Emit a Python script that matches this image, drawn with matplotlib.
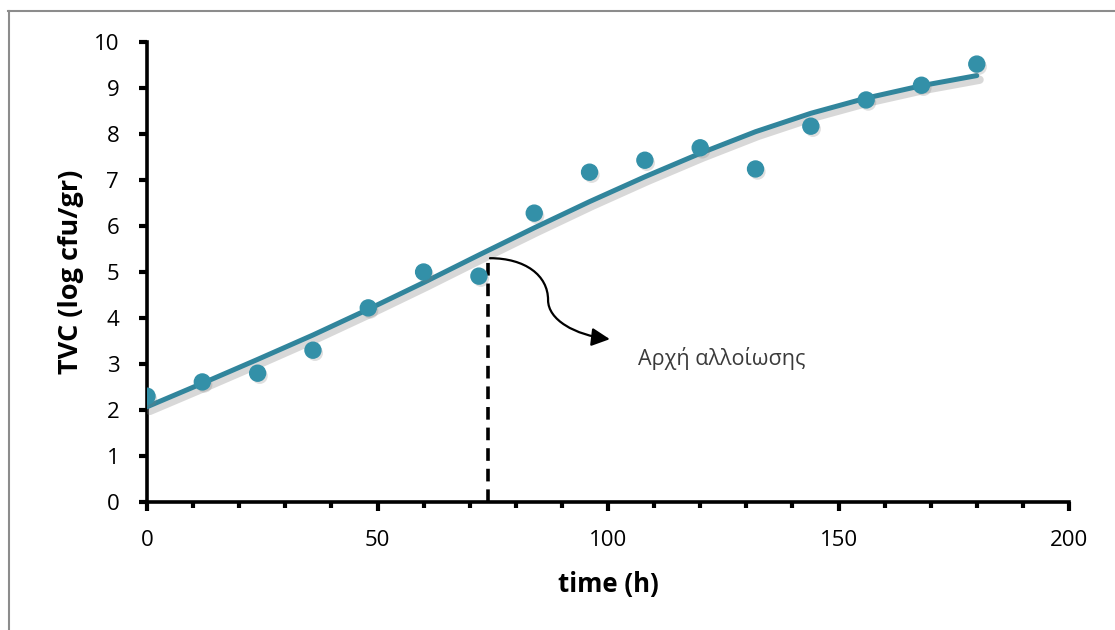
import matplotlib
matplotlib.use("Agg")
import matplotlib.pyplot as plt
import matplotlib.patheffects as pe
from matplotlib.path import Path
from matplotlib.patches import FancyArrowPatch
from matplotlib.lines import Line2D
from matplotlib.ticker import MultipleLocator

# ---- data ----
time_h = [0, 12, 24, 36, 48, 60, 72, 84, 96, 108, 120, 132, 144, 156, 168, 180]
tvc = [2.30, 2.61, 2.80, 3.30, 4.22, 5.00, 4.91, 6.28, 7.17, 7.43, 7.70, 7.24, 8.17, 8.74, 9.06, 9.52]

fit_time = [0, 12, 24, 36, 48, 60, 72, 84, 96, 108, 120, 132, 144, 156, 168, 180]
fit_tvc = [2.07, 2.58, 3.10, 3.63, 4.19, 4.77, 5.37, 5.96, 6.53, 7.07, 7.58, 8.05, 8.45, 8.78, 9.05, 9.27]

onset_time = 74
onset_value = 5.30
annot_text = "Αρχή αλλοίωσης"

x_ticks = [0, 50, 100, 150, 200]
y_ticks = list(range(0, 11))

plt.rcParams['font.family'] = ['Open Sans', 'DejaVu Sans']

teal = '#31859C'
dot = '#3390A8'

fig = plt.figure(figsize=(11.15, 6.30), dpi=100)
ax = fig.add_axes([147/1115, 1-502/630, (1069-147)/1115, (502-42)/630])

# outer frame lines (top and left)
fig.add_artist(Line2D([8/1115, 1], [1-11/630, 1-11/630], transform=fig.transFigure,
                      color='#8c8c8c', lw=1.5))
fig.add_artist(Line2D([8.5/1115, 8.5/1115], [0, 1-11/630], transform=fig.transFigure,
                      color='#8c8c8c', lw=1.5))

# fitted curve with shadow
ax.plot(fit_time, fit_tvc, color=teal, lw=3.6, solid_capstyle='round', zorder=3,
        path_effects=[pe.SimpleLineShadow(offset=(2, -3), shadow_color='#808080', alpha=0.3, linewidth=6),
                      pe.Normal()])

# data points
ax.plot(time_h, tvc, linestyle='none', marker='o', ms=11.5, color=dot, mec=dot, zorder=4,
        path_effects=[pe.SimplePatchShadow(offset=(1.5, -2), shadow_rgbFace='#808080', alpha=0.25),
                      pe.Normal()])

# dashed vertical line
ax.plot([onset_time, onset_time], [0, onset_value], color='black', lw=2.6,
        linestyle=(0, (3.5, 2.2)), zorder=2)

# curved arrow (S-shape)
verts = [(onset_time + 0.4, onset_value), (82.0, 5.30), (87.0, 4.93), (87.0, 4.39),
         (87.0, 3.96), (92.8, 3.63), (100.4, 3.54)]
codes = [Path.MOVETO, Path.CURVE4, Path.CURVE4, Path.CURVE4,
         Path.CURVE4, Path.CURVE4, Path.CURVE4]
arrow = FancyArrowPatch(path=Path(verts, codes), arrowstyle='-|>,head_length=11,head_width=5.5',
                        color='black', lw=1.6, zorder=5)
ax.add_patch(arrow)

ax.text(106.5, 3.13, annot_text, fontsize=15.5, color='#3a3a3a', va='center', ha='left')

# axes styling
ax.set_xlim(0, 200)
ax.set_ylim(0, 10)
ax.set_xticks(x_ticks)
ax.set_yticks(y_ticks)
ax.xaxis.set_minor_locator(MultipleLocator(10))
for s in ['top', 'right']:
    ax.spines[s].set_visible(False)
for s in ['left', 'bottom']:
    ax.spines[s].set_linewidth(2.6)
    ax.spines[s].set_capstyle('projecting')
ax.tick_params(axis='y', which='major', direction='out', length=6, width=3, pad=14, labelsize=16)
ax.tick_params(axis='x', which='major', direction='out', length=6.5, width=3, pad=14, labelsize=16)
ax.tick_params(axis='x', which='minor', direction='out', length=4.5, width=3)

ax.set_xlabel('time (h)', fontsize=18.5, fontweight='bold', labelpad=14)
ax.set_ylabel('TVC (log cfu/gr)', fontsize=19.5, fontweight='bold', labelpad=7)

fig.savefig('out.png', dpi=100)
